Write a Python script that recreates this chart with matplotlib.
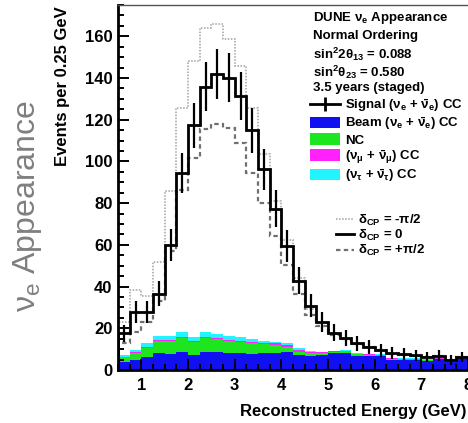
import numpy as np
import matplotlib
matplotlib.use("Agg")
import matplotlib.pyplot as plt
from matplotlib.lines import Line2D
from matplotlib.patches import Patch

plt.rcParams['font.family'] = ['Liberation Sans', 'DejaVu Sans']
plt.rcParams['mathtext.fontset'] = 'custom'
plt.rcParams['mathtext.rm'] = 'Liberation Sans:weight=normal'
plt.rcParams['mathtext.bf'] = 'Liberation Sans:weight=bold'
plt.rcParams['mathtext.it'] = 'Liberation Sans:weight=bold'
plt.rcParams['mathtext.default'] = 'bf'

# reconstructed energy bins, 0.25 GeV wide, 0.5 - 8 GeV
edges = np.arange(0.5, 8.01, 0.25)
centers = 0.5 * (edges[:-1] + edges[1:])

# delta_CP = 0 (signal with stat. errors)
signal = [17.6, 27.6, 28.0, 36.5, 59.8, 94.5, 117.3, 135.9, 141.8, 140.2,
          131.4, 114.9, 96.2, 77.3, 59.3, 42.8, 30.8, 23.2, 17.9, 15.4,
          12.8, 11.0, 9.5, 8.0, 7.6, 7.0, 6.3, 6.9, 4.8, 6.1]
# delta_CP = -pi/2
dcp_minus = [23.2, 38.5, 35.3, 51.6, 85.7, 125.8, 148.2, 163.8, 165.9, 158.7,
             145.8, 125.8, 103.4, 80.9, 62.5, 44.1, 29.2, 22.4, 17.5, 15.0,
             12.5, 10.8, 9.3, 7.8, 7.4, 6.8, 6.0, 6.6, 5.0, 6.0]
# delta_CP = +pi/2
dcp_plus = [12.8, 18.4, 23.2, 33.0, 57.0, 86.5, 101.8, 115.4, 117.8, 116.2,
            109.0, 94.6, 80.1, 64.4, 50.5, 36.5, 26.4, 21.2, 17.0, 14.8,
            12.5, 10.8, 9.4, 7.9, 7.4, 6.7, 6.0, 6.6, 4.6, 6.0]

# backgrounds (stacked)
beam = [4.0, 4.8, 6.1, 8.0, 7.7, 8.8, 7.2, 8.5, 8.5, 8.0,
        8.0, 7.7, 8.0, 8.3, 8.8, 7.2, 6.9, 7.2, 8.0, 8.0,
        6.7, 6.7, 6.7, 4.8, 4.8, 4.8, 4.3, 5.1, 3.8, 5.1]
nc = [2.1, 3.2, 4.3, 5.9, 6.2, 6.7, 6.4, 7.0, 6.4, 6.1,
      5.6, 5.4, 4.5, 3.7, 2.1, 1.6, 1.4, 0.8, 0.8, 1.0,
      0.8, 0.6, 0.5, 0.6, 0.5, 0.4, 0.5, 0.4, 0.4, 0.4]
numu = [0.3, 0.4, 0.5, 0.5, 0.5, 0.5, 0.4, 0.5, 0.5, 0.5,
        0.5, 0.5, 0.6, 0.8, 1.1, 0.6, 0.4, 0.4, 0.2, 0.2,
        0.2, 0.2, 0.2, 0.2, 0.2, 0.2, 0.1, 0.1, 0.1, 0.1]
nutau = [0.8, 1.2, 1.9, 1.9, 1.9, 2.4, 2.0, 2.4, 1.9, 1.7,
         1.9, 1.1, 0.8, 0.7, 0.8, 1.0, 0.6, 0.4, 0.3, 0.4,
         0.3, 0.3, 0.2, 0.2, 0.2, 0.2, 0.2, 0.2, 0.2, 0.2]

bkg_labels = [r'Beam ($\nu_e$ + $\bar{\nu}_e$) CC', 'NC',
              r'($\nu_\mu$ + $\bar{\nu}_\mu$) CC', r'($\nu_\tau$ + $\bar{\nu}_\tau$) CC']
bkg_colors = ['#1010f0', '#1ee61e', '#ff22ff', '#22f4ff']

fig = plt.figure(figsize=(4.68, 4.23), dpi=100)
ax = fig.add_axes([118 / 468, 53 / 423, 350 / 468, 365 / 423])

bottom = np.zeros(len(beam))
for vals, col in zip([beam, nc, numu, nutau], bkg_colors):
    top = bottom + np.array(vals)
    ax.stairs(top, edges, baseline=bottom, fill=True, color=col, lw=0)
    bottom = top

ax.stairs(dcp_minus, edges, color='#a0a0a0', ls=(0, (1, 1)), lw=1.1)
ax.stairs(dcp_plus, edges, color='#707070', ls=(0, (2, 1.5)), lw=1.6)
ax.stairs(signal, edges, color='black', lw=2)
ax.errorbar(centers, signal, yerr=np.sqrt(signal), fmt='none', ecolor='black', elinewidth=1.6)

ax.set_xlim(0.5, 8.0)
ax.set_ylim(0, 175)
ax.set_xticks(np.arange(1, 9, 1))
ax.set_xticks(np.arange(0.5, 8.01, 0.25), minor=True)
ax.set_yticks(np.arange(0, 161, 20))
ax.set_yticks(np.arange(0, 176, 5), minor=True)
ax.tick_params(which='both', direction='in', width=1.4, labelsize=12, top=False, right=False)
ax.tick_params(which='major', length=8, pad=4)
ax.tick_params(which='minor', length=4)
ax.tick_params(axis='x', pad=6)
ax.spines['right'].set_visible(False)
ax.spines['left'].set_linewidth(2)
ax.spines['bottom'].set_linewidth(2)
ax.spines['top'].set_linewidth(1)
ax.spines['top'].set_color('#555555')
for lab in ax.get_xticklabels() + ax.get_yticklabels():
    lab.set_fontweight('bold')

fig.text(466 / 468, 1 - 411 / 423, 'Reconstructed Energy (GeV)', ha='right', va='center',
         fontsize=12, fontweight='bold')
fig.text(62 / 468, 1 - 6 / 423, 'Events per 0.25 GeV', rotation=90, ha='center', va='top',
         fontsize=12, fontweight='bold')
fig.text(28 / 468, 1 - 206 / 423, r'$\mathrm{\nu_e}$ Appearance', rotation=90, ha='center',
         va='center', fontsize=23, fontweight='normal', color='#7f7f7f')

info = [r'DUNE $\nu_e$ Appearance', 'Normal Ordering',
        r'sin$^{2}$2$\theta_{13}$ = 0.088', r'sin$^{2}\theta_{23}$ = 0.580',
        '3.5 years (staged)']
info_y = [18, 36, 54, 72, 88]
for txt, yy in zip(info, info_y):
    fig.text(313 / 468, 1 - yy / 423, txt, ha='left', va='center', fontsize=9.5, fontweight='bold')

leg_font = {'size': 9.5, 'weight': 'bold'}
handles = [Line2D([], [], color='black', lw=2, marker='|', markersize=10, markeredgewidth=2)]
handles += [Patch(facecolor=c, edgecolor='none') for c in bkg_colors]
labels = [r'Signal ($\nu_e$ + $\bar{\nu}_e$) CC'] + bkg_labels
leg1 = ax.legend(handles, labels, loc='upper left', bbox_to_anchor=(310 / 468, 1 - 97 / 423),
                 bbox_transform=fig.transFigure, frameon=False, prop=leg_font, numpoints=1,
                 handlelength=2.3, handleheight=0.95, handletextpad=0.35, labelspacing=0.1,
                 borderpad=0, borderaxespad=0)
ax.add_artist(leg1)

dcp_handles = [Line2D([], [], color='#a0a0a0', ls=(0, (1, 1)), lw=1.1),
               Line2D([], [], color='black', lw=2),
               Line2D([], [], color='#707070', ls=(0, (2, 1.5)), lw=1.6)]
dcp_labels = [r'$\delta_{CP}$ = -$\pi$/2', r'$\delta_{CP}$ = 0', r'$\delta_{CP}$ = +$\pi$/2']
ax.legend(dcp_handles, dcp_labels, loc='upper left', bbox_to_anchor=(336 / 468, 1 - 213 / 423),
          bbox_transform=fig.transFigure, frameon=False, prop=leg_font, handlelength=1.4,
          handletextpad=0.3, labelspacing=0.0, borderpad=0, borderaxespad=0)

fig.savefig('out.png', dpi=100)
